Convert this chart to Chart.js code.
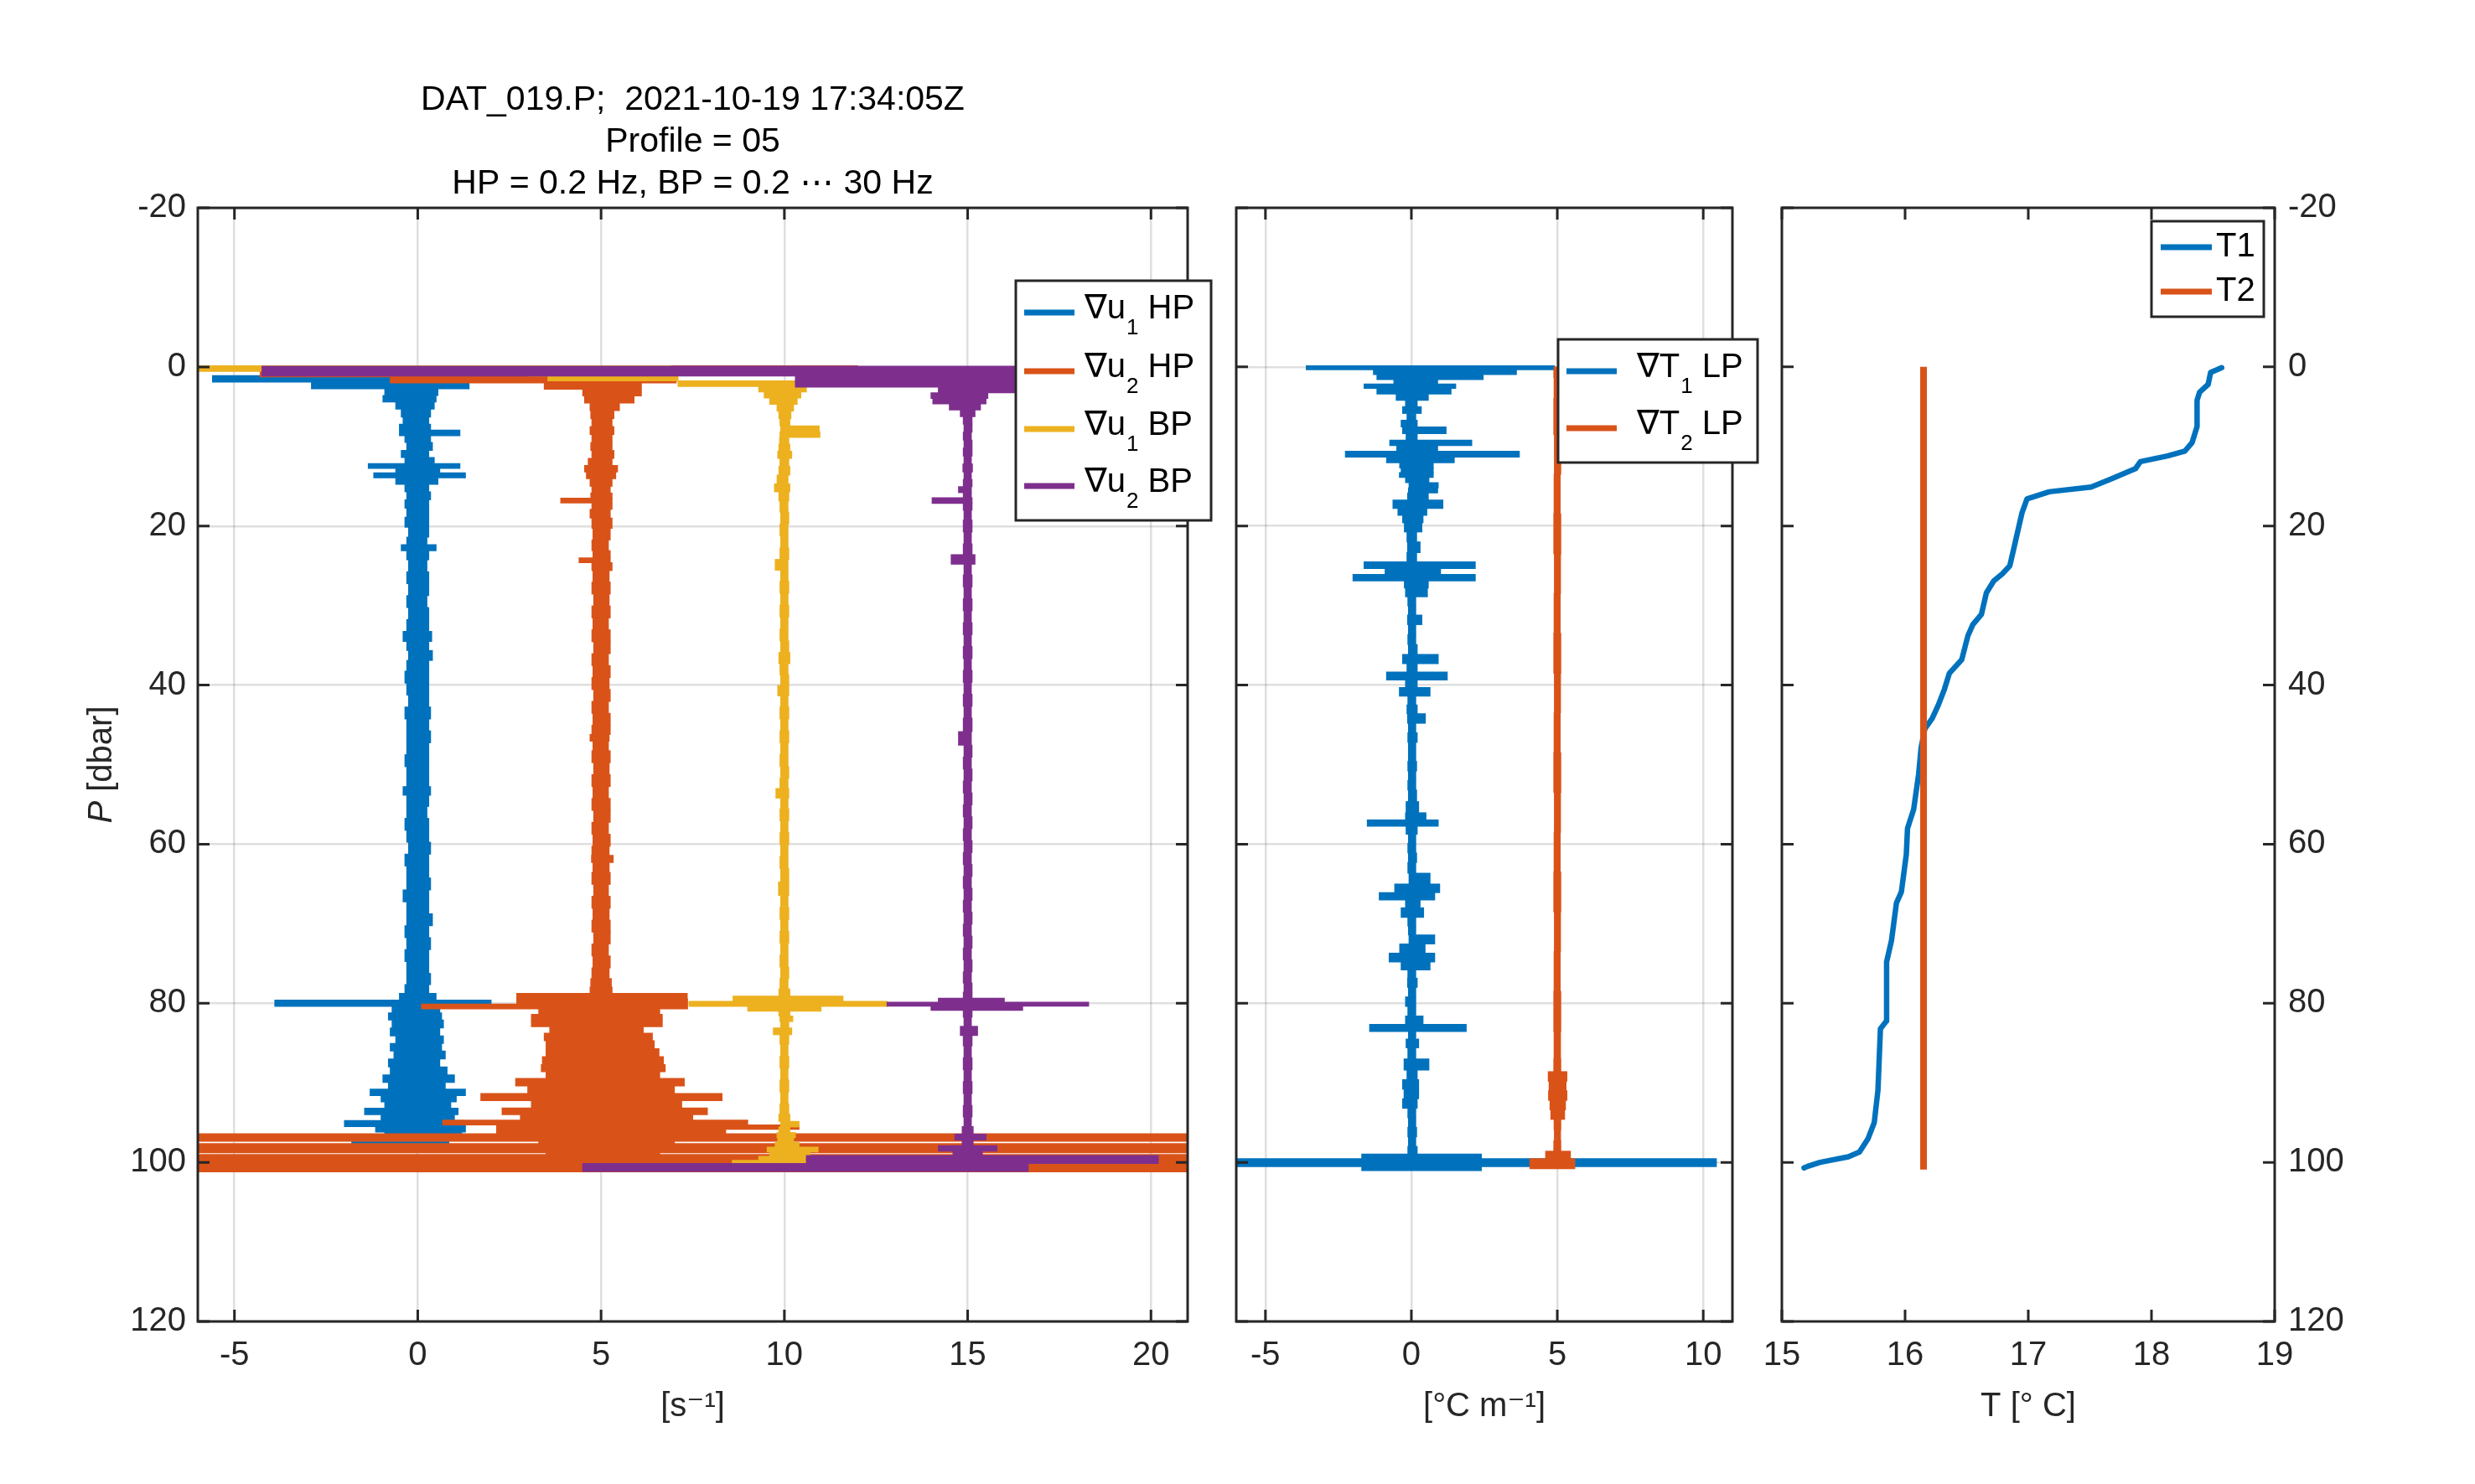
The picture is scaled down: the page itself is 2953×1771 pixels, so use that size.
<!DOCTYPE html>
<html>
<head>
<meta charset="utf-8">
<title>DAT_019.P profile 05</title>
<script src="https://cdn.jsdelivr.net/npm/chart.js@4.4.1/dist/chart.umd.min.js"></script>
<style>
  html, body { margin: 0; padding: 0; background: #fff; overflow: hidden; }
  #wrap { position: relative; width: 2953px; height: 1771px; }
  #wrap canvas { position: absolute; left: 0; top: 0; }
</style>
</head>
<body>
<div id="wrap">
  <canvas id="shearChart" width="2953" height="1771"></canvas>
  <canvas id="gradChart" width="2953" height="1771"></canvas>
  <canvas id="tempChart" width="2953" height="1771"></canvas>
</div>
<script>
// tick labels
const pTicks = [-20, 0, 20, 40, 60, 80, 100, 120];
const shearTicks = [-5, 0, 5, 10, 15, 20];
const gradTicks = [-5, 0, 5, 10];
const tempTicks = [15, 16, 17, 18, 19];

// shear traces, each row: [P dbar, left edge, right edge]
const u1HP = [
  [1.5, -5.6, 1.0], [2.3, -2.9, 1.4], [3.2, -0.9, 0.55], [4.0, -0.95, 0.5],
  [4.8, -0.6, 0.45], [5.8, -0.45, 0.35], [6.8, -0.4, 0.3], [7.6, -0.5, 0.35], [8.3, -0.5, 1.15],
  [9.0, -0.35, 0.35], [10.0, -0.3, 0.4], [11.0, -0.45, 0.3], [11.8, -0.35, 0.45], [12.5, -1.35, 1.15],
  [13.0, -0.6, 0.6], [13.6, -1.2, 1.3], [14.3, -0.6, 0.55], [15.2, -0.35, 0.3], [16.2, -0.3, 0.35],
  [17.2, -0.35, 0.3], [18.3, -0.3, 0.3], [19.5, -0.35, 0.3], [20.8, -0.25, 0.3], [22.0, -0.3, 0.25],
  [22.7, -0.45, 0.5], [23.5, -0.3, 0.3], [25.0, -0.25, 0.25], [26.5, -0.3, 0.3], [28.0, -0.25, 0.3],
  [29.5, -0.3, 0.25], [31.0, -0.25, 0.3], [32.5, -0.3, 0.3], [34.0, -0.4, 0.38], [35.0, -0.3, 0.3],
  [36.3, -0.25, 0.4], [37.5, -0.3, 0.3], [39.0, -0.35, 0.3], [40.5, -0.3, 0.3], [42.0, -0.25, 0.3],
  [43.5, -0.35, 0.35], [45.0, -0.3, 0.3], [46.5, -0.3, 0.35], [48.0, -0.3, 0.3], [49.5, -0.35, 0.3],
  [51.0, -0.3, 0.3], [52.3, -0.3, 0.3], [53.2, -0.4, 0.35], [54.5, -0.3, 0.3], [56.0, -0.3, 0.25],
  [57.5, -0.35, 0.3], [59.0, -0.3, 0.3], [60.5, -0.25, 0.35], [62.0, -0.35, 0.3], [63.5, -0.3, 0.3],
  [65.0, -0.3, 0.35], [66.5, -0.4, 0.3], [68.0, -0.3, 0.3], [69.5, -0.3, 0.4], [71.0, -0.35, 0.3],
  [72.5, -0.3, 0.35], [74.0, -0.35, 0.3], [75.5, -0.3, 0.3], [77.0, -0.3, 0.35], [78.3, -0.35, 0.3],
  [79.2, -0.5, 0.5], [80.0, -3.9, 2.0], [80.8, -0.7, 0.6], [81.6, -0.8, 0.65], [82.6, -0.7, 0.7],
  [83.6, -0.75, 0.6], [84.6, -0.6, 0.7], [85.5, -0.75, 0.65], [86.5, -0.65, 0.75], [87.5, -0.8, 0.6],
  [88.5, -0.75, 0.8], [89.5, -0.95, 1.0], [90.4, -0.8, 0.75], [91.2, -1.3, 1.3], [92.0, -1.0, 1.05],
  [92.8, -0.9, 0.9], [93.6, -1.45, 1.1], [94.4, -1.0, 1.0], [95.1, -2.0, 1.3], [95.9, -1.15, 1.3],
  [96.5, -0.9, 1.2], [97.6, -1.8, 0.85]
];
const u2HP = [
  [0.2, -4.3, 12.0], [0.9, -4.3, 6.0], [1.6, -0.75, 7.05], [2.4, 3.45, 6.1], [3.2, 4.5, 6.1],
  [4.1, 4.55, 5.9], [5.0, 4.7, 5.5], [6.0, 4.72, 5.35], [7.0, 4.75, 5.3], [8.0, 4.7, 5.35],
  [9.0, 4.75, 5.3], [10.0, 4.72, 5.3], [11.0, 4.75, 5.35], [12.0, 4.65, 5.3], [12.8, 4.55, 5.45],
  [13.6, 4.6, 5.4], [14.5, 4.7, 5.3], [15.5, 4.75, 5.25], [16.2, 4.72, 5.3], [16.8, 3.9, 5.3],
  [17.4, 4.75, 5.3], [18.4, 4.7, 5.25], [19.6, 4.75, 5.3], [21.0, 4.78, 5.25], [22.5, 4.75, 5.2],
  [23.7, 4.78, 5.25], [24.3, 4.4, 5.25], [24.9, 4.75, 5.3], [26.3, 4.78, 5.22], [27.8, 4.75, 5.25],
  [29.3, 4.8, 5.22], [30.8, 4.75, 5.25], [32.3, 4.78, 5.2], [33.8, 4.75, 5.25], [35.3, 4.8, 5.25],
  [36.8, 4.75, 5.2], [38.3, 4.78, 5.25], [39.8, 4.75, 5.22], [41.3, 4.8, 5.25], [42.8, 4.75, 5.2],
  [44.3, 4.78, 5.25], [45.8, 4.75, 5.25], [46.6, 4.7, 5.22], [47.5, 4.78, 5.2], [49.0, 4.75, 5.25],
  [50.5, 4.8, 5.22], [52.0, 4.75, 5.25], [53.5, 4.78, 5.2], [55.0, 4.75, 5.25], [56.5, 4.8, 5.25],
  [58.0, 4.75, 5.2], [59.5, 4.78, 5.25], [61.0, 4.75, 5.22], [61.8, 4.74, 5.33], [62.8, 4.78, 5.22],
  [64.3, 4.75, 5.25], [65.8, 4.8, 5.2], [67.3, 4.75, 5.25], [68.8, 4.78, 5.22], [70.3, 4.75, 5.25],
  [71.8, 4.8, 5.25], [73.3, 4.75, 5.2], [74.8, 4.78, 5.25], [76.3, 4.75, 5.22], [77.5, 4.72, 5.28],
  [78.4, 4.7, 5.3], [79.1, 2.7, 7.35], [79.8, 2.7, 7.36], [80.4, 0.1, 7.36], [81.0, 3.3, 6.6],
  [81.8, 3.1, 6.67], [82.6, 3.1, 6.67], [83.3, 3.6, 6.15], [84.2, 3.45, 6.4], [85.2, 3.5, 6.45],
  [86.2, 3.5, 6.58], [87.2, 3.4, 6.7], [88.2, 3.37, 6.75], [89.0, 3.5, 6.6], [89.9, 2.67, 7.27],
  [90.9, 3.0, 7.0], [91.8, 1.72, 8.3], [92.7, 3.1, 7.2], [93.6, 2.3, 7.9], [94.4, 2.8, 7.5],
  [95.0, 0.68, 9.0], [95.6, 2.15, 10.4], [96.1, 2.15, 8.4], [96.7, -6, 21], [97.2, -6, 21],
  [97.5, 3.3, 7.0], [97.8, -6, 21], [98.3, -6, 21], [98.7, -6, 21], [98.9, 3.5, 6.6],
  [99.1, -6, 21], [99.6, -6, 21], [100.1, -6, 21], [100.6, -6, 21], [101.0, -6, 21]
];
const u1BP = [
  [0.2, -6.0, 6.9], [0.9, 3.0, 5.0], [1.4, 3.55, 7.1], [2.1, 7.1, 11.1], [2.8, 9.3, 10.6],
  [3.5, 9.45, 10.45], [4.3, 9.6, 10.35], [5.1, 9.8, 10.25], [6.0, 9.85, 10.18], [7.0, 9.88, 10.15],
  [7.8, 9.9, 10.95], [8.5, 9.88, 10.97], [9.2, 9.87, 10.12], [10.2, 9.85, 10.15], [11.0, 9.82, 10.2],
  [12.0, 9.88, 10.12], [13.0, 9.85, 10.15], [14.2, 9.8, 10.1], [15.2, 9.73, 10.15], [16.2, 9.85, 10.12],
  [17.5, 9.88, 10.1], [19.0, 9.9, 10.12], [20.5, 9.88, 10.1], [22.0, 9.9, 10.1], [23.5, 9.88, 10.12],
  [24.9, 9.75, 10.1], [26.2, 9.9, 10.1], [27.7, 9.88, 10.12], [29.2, 9.9, 10.1], [30.7, 9.88, 10.12],
  [32.2, 9.9, 10.1], [33.7, 9.88, 10.1], [35.2, 9.9, 10.12], [36.6, 9.85, 10.15], [38.0, 9.88, 10.1],
  [39.4, 9.9, 10.12], [40.7, 9.82, 10.12], [42.0, 9.9, 10.1], [43.5, 9.88, 10.12], [45.0, 9.9, 10.1],
  [46.5, 9.88, 10.12], [48.0, 9.9, 10.1], [49.5, 9.88, 10.1], [51.0, 9.9, 10.12], [52.4, 9.88, 10.1],
  [53.6, 9.77, 10.12], [54.8, 9.9, 10.1], [56.3, 9.88, 10.12], [57.8, 9.9, 10.1], [59.3, 9.88, 10.12],
  [60.8, 9.9, 10.1], [62.3, 9.88, 10.1], [63.8, 9.9, 10.12], [65.7, 9.84, 10.12], [67.2, 9.9, 10.1],
  [68.7, 9.88, 10.12], [70.2, 9.9, 10.1], [71.7, 9.88, 10.12], [73.2, 9.9, 10.1], [74.7, 9.88, 10.1],
  [76.2, 9.9, 10.12], [77.6, 9.88, 10.1], [78.8, 9.85, 10.15], [79.4, 8.6, 11.6], [80.1, 7.4, 12.8],
  [80.7, 9.0, 11.0], [81.3, 9.85, 10.15], [81.9, 9.88, 10.23], [82.7, 9.9, 10.12], [83.5, 9.7, 10.2],
  [84.4, 9.88, 10.12], [85.9, 9.9, 10.1], [87.4, 9.88, 10.12], [88.9, 9.9, 10.1], [90.4, 9.88, 10.12],
  [91.9, 9.9, 10.1], [93.4, 9.88, 10.12], [94.5, 9.85, 10.15], [95.2, 9.9, 10.4], [95.9, 9.85, 10.15],
  [96.6, 9.8, 10.3], [97.2, 9.82, 10.25], [97.8, 9.75, 10.4], [98.4, 9.53, 10.92], [99.0, 9.6, 10.7],
  [99.5, 9.3, 10.9], [100.0, 8.58, 11.27], [100.4, 8.58, 11.27]
];
const u2BP = [
  [0.2, -4.25, 21.0], [0.8, -4.25, 21.0], [1.5, 10.3, 17.5], [2.2, 10.3, 17.5], [2.9, 14.2, 16.3],
  [3.6, 14.0, 15.55], [4.3, 14.05, 15.5], [5.0, 14.5, 15.35], [5.8, 14.8, 15.2], [6.7, 14.88, 15.12],
  [7.7, 14.9, 15.12], [8.7, 14.88, 15.1], [9.7, 14.9, 15.12], [10.7, 14.88, 15.12], [11.7, 14.9, 15.1],
  [12.7, 14.87, 15.13], [13.7, 14.9, 15.1], [14.6, 14.88, 15.12], [15.5, 14.75, 15.1], [16.1, 14.88, 15.1],
  [16.8, 14.03, 15.12], [17.5, 14.88, 15.12], [18.5, 14.9, 15.1], [20.0, 14.88, 15.12], [21.5, 14.9, 15.1],
  [23.0, 14.88, 15.12], [24.2, 14.55, 15.2], [25.4, 14.9, 15.1], [26.9, 14.88, 15.12], [28.4, 14.9, 15.1],
  [29.9, 14.88, 15.12], [31.4, 14.9, 15.1], [32.9, 14.88, 15.12], [34.4, 14.9, 15.1], [35.9, 14.88, 15.12],
  [37.4, 14.9, 15.1], [38.9, 14.88, 15.12], [40.4, 14.9, 15.1], [41.9, 14.88, 15.12], [43.4, 14.9, 15.1],
  [44.9, 14.88, 15.12], [46.8, 14.75, 15.1], [48.3, 14.9, 15.12], [49.8, 14.88, 15.1], [51.3, 14.9, 15.12],
  [52.8, 14.88, 15.1], [54.3, 14.9, 15.12], [55.8, 14.88, 15.1], [57.3, 14.9, 15.12], [58.8, 14.88, 15.1],
  [60.3, 14.9, 15.12], [61.8, 14.88, 15.1], [63.3, 14.9, 15.12], [64.8, 14.88, 15.1], [66.3, 14.9, 15.12],
  [67.8, 14.88, 15.1], [69.3, 14.9, 15.12], [70.8, 14.88, 15.1], [72.3, 14.9, 15.12], [73.8, 14.88, 15.1],
  [75.3, 14.9, 15.12], [76.8, 14.88, 15.1], [78.1, 14.9, 15.12], [79.1, 14.88, 15.12], [79.6, 14.2, 16.0],
  [80.1, 12.8, 18.3], [80.6, 14.0, 16.5], [81.2, 14.88, 15.12], [82.3, 14.9, 15.1], [83.5, 14.8, 15.27],
  [84.6, 14.88, 15.12], [86.1, 14.9, 15.1], [87.6, 14.88, 15.12], [89.1, 14.9, 15.1], [90.6, 14.88, 15.12],
  [92.1, 14.9, 15.1], [93.6, 14.88, 15.12], [95.0, 14.9, 15.1], [96.0, 14.85, 15.15], [96.9, 14.65, 15.5],
  [97.5, 14.85, 15.15], [98.3, 14.2, 15.8], [98.9, 14.6, 15.4], [99.4, 10.6, 20.2], [99.9, 10.6, 20.2],
  [100.4, 4.5, 16.65], [100.9, 4.5, 16.65]
];

// temperature gradient traces, rows: [P dbar, left edge, right edge]
const dT1 = [
  [0.1, -3.6, 4.9], [0.6, -1.3, 3.6], [1.3, -1.18, 2.46], [1.9, -0.6, 0.9], [2.4, -1.62, 1.52],
  [3.0, -1.18, 1.36], [3.8, -0.52, 0.58], [4.6, -0.2, 0.2], [5.4, -0.3, 0.34], [6.3, -0.15, 0.15],
  [7.1, -0.35, 0.2], [8.0, -0.3, 1.19], [8.8, -0.18, 0.2], [9.6, -0.74, 2.07], [10.2, -0.5, 0.9],
  [11.0, -2.26, 3.7], [11.7, -0.85, 1.47], [12.4, -0.4, 0.75], [13.0, -0.35, 0.75], [13.6, -0.41, 0.75],
  [14.2, -0.2, 0.6], [14.9, -0.08, 0.92], [15.5, -0.1, 0.9], [16.2, -0.13, 0.58], [17.3, -0.63, 1.08],
  [18.3, -0.46, 0.53], [19.0, -0.3, 0.4], [20.2, -0.24, 0.36], [21.3, -0.15, 0.18], [22.7, -0.13, 0.3],
  [24.0, -0.15, 0.18], [25.0, -1.62, 2.19], [25.7, -0.9, 1.0], [26.5, -2.0, 2.19], [27.3, -0.24, 0.58],
  [28.3, -0.2, 0.55], [29.5, -0.12, 0.15], [30.6, -0.1, 0.15], [31.8, -0.13, 0.36], [33.0, -0.1, 0.15],
  [34.3, -0.12, 0.15], [35.5, -0.1, 0.2], [36.8, -0.3, 0.92], [37.8, -0.15, 0.2], [38.9, -0.85, 1.23],
  [39.8, -0.2, 0.2], [40.8, -0.41, 0.64], [42.0, -0.12, 0.15], [43.0, -0.15, 0.2], [44.2, -0.13, 0.48],
  [45.4, -0.1, 0.15], [46.6, -0.12, 0.2], [47.8, -0.1, 0.15], [49.0, -0.1, 0.15], [50.2, -0.12, 0.18],
  [51.4, -0.1, 0.15], [52.6, -0.12, 0.15], [53.8, -0.1, 0.18], [55.5, -0.18, 0.25], [56.6, -0.2, 0.5],
  [57.3, -1.51, 0.92], [58.2, -0.18, 0.2], [59.3, -0.1, 0.15], [60.5, -0.12, 0.15], [61.7, -0.1, 0.18],
  [62.9, -0.12, 0.15], [64.4, -0.08, 0.64], [65.6, -0.57, 0.97], [66.6, -1.1, 0.8], [67.4, -0.2, 0.3],
  [68.6, -0.35, 0.42], [69.8, -0.12, 0.15], [70.8, -0.1, 0.15], [72.0, -0.08, 0.8], [73.1, -0.4, 0.47],
  [74.3, -0.76, 0.8], [75.3, -0.35, 0.64], [76.3, -0.12, 0.15], [77.4, -0.13, 0.2], [78.6, -0.1, 0.15],
  [79.8, -0.2, 0.15], [81.0, -0.12, 0.15], [82.2, -0.2, 0.4], [83.1, -1.43, 1.88], [84.0, -0.1, 0.15],
  [85.0, -0.18, 0.25], [86.2, -0.12, 0.15], [87.8, -0.25, 0.6], [89.0, -0.15, 0.2], [90.2, -0.3, 0.25],
  [91.4, -0.25, 0.25], [92.6, -0.3, 0.2], [93.8, -0.12, 0.15], [95.0, -0.1, 0.15], [96.2, -0.12, 0.18],
  [97.4, -0.1, 0.15], [98.6, -0.12, 0.2], [99.3, -1.7, 2.4], [99.8, -6.0, 10.45], [100.3, -6.0, 10.45],
  [100.8, -1.7, 2.4]
];
const dT2 = [
  [0.2, 4.89, 5.11], [0.6, 4.88, 5.1], [2.0, 4.89, 5.12], [6.0, 4.88, 5.11], [11.0, 4.9, 5.12],
  [16.0, 4.89, 5.1], [21.0, 4.88, 5.12], [26.0, 4.9, 5.11], [31.0, 4.89, 5.1], [36.0, 4.88, 5.12],
  [41.0, 4.9, 5.11], [46.0, 4.89, 5.1], [51.0, 4.88, 5.12], [56.0, 4.9, 5.11], [61.0, 4.89, 5.1],
  [66.0, 4.88, 5.12], [71.0, 4.9, 5.11], [76.0, 4.89, 5.1], [81.0, 4.88, 5.12], [86.0, 4.89, 5.11],
  [88.0, 4.88, 5.12], [89.2, 4.69, 5.33], [90.4, 4.72, 5.3], [91.6, 4.7, 5.33], [92.8, 4.75, 5.28],
  [94.0, 4.78, 5.25], [95.2, 4.89, 5.12], [96.6, 4.9, 5.11], [98.0, 4.88, 5.12], [99.2, 4.6, 5.45],
  [99.9, 4.06, 5.6], [100.5, 4.06, 5.6]
];

// temperature profiles
const t1P = [0.1, 0.7, 2.2, 3.2, 4.2, 7.5, 9.5, 10.6, 11.2, 11.9, 12.8, 14.1, 15.1, 15.7, 16.6, 18.3,
  20.3, 23.0, 25.0, 26.0, 26.9, 28.4, 31.1, 32.4, 33.8, 36.8, 38.5, 40.5, 42.5, 44.2, 45.5, 47.9, 51.2,
  55.6, 58.0, 61.3, 66.0, 67.4, 72.1, 74.8, 82.2, 83.2, 90.9, 95.0, 97.0, 98.7, 99.3, 100.0, 100.5, 100.7];
const t1 = [18.57, 18.48, 18.46, 18.39, 18.37, 18.37, 18.33, 18.27, 18.13, 17.91, 17.87, 17.67, 17.51,
  17.17, 16.99, 16.95, 16.92, 16.88, 16.85, 16.79, 16.72, 16.66, 16.62, 16.55, 16.51, 16.46, 16.36, 16.32,
  16.27, 16.22, 16.16, 16.13, 16.11, 16.07, 16.02, 16.01, 15.97, 15.93, 15.89, 15.85, 15.85, 15.80, 15.78,
  15.75, 15.70, 15.63, 15.54, 15.31, 15.21, 15.18];
const t2P = [0.0, 100.9];
const t2 = [16.15, 16.15];

const FONT = "'Liberation Sans', Arial, Helvetica, 'DejaVu Sans', sans-serif";
const INK = '#262626';
const GRID = 'rgba(38,38,38,0.15)';
const BLUE = '#0072BD';
const ORANGE = '#D95319';
const YELLOW = '#EDB120';
const PURPLE = '#7E2F8E';

Chart.defaults.font.family = FONT;
Chart.defaults.font.size = 40;
Chart.defaults.color = INK;

// box round the axes plus inward tick marks, matlab style
const matlabFrame = {
  id: 'matlabFrame',
  afterDatasetsDraw(chart) {
    const {ctx, chartArea: a, scales: {x, y}} = chart;
    const len = 14;
    ctx.save();
    ctx.strokeStyle = INK;
    ctx.lineWidth = 3;
    ctx.beginPath();
    x.ticks.forEach(t => {
      const px = x.getPixelForValue(t.value);
      ctx.moveTo(px, a.bottom); ctx.lineTo(px, a.bottom - len);
      ctx.moveTo(px, a.top); ctx.lineTo(px, a.top + len);
    });
    y.ticks.forEach(t => {
      const py = y.getPixelForValue(t.value);
      ctx.moveTo(a.left, py); ctx.lineTo(a.left + len, py);
      ctx.moveTo(a.right, py); ctx.lineTo(a.right - len, py);
    });
    ctx.stroke();
    ctx.strokeRect(a.left, a.top, a.right - a.left, a.bottom - a.top);
    ctx.restore();
  }
};

// rotated y label with an italic P
const pLabel = {
  id: 'pLabel',
  afterDraw(chart, args, o) {
    const ctx = chart.ctx;
    const a = chart.chartArea;
    ctx.save();
    ctx.translate(o.x, (a.top + a.bottom) / 2);
    ctx.rotate(-Math.PI / 2);
    ctx.fillStyle = INK;
    ctx.textBaseline = 'middle';
    ctx.textAlign = 'left';
    ctx.font = 'italic 40px ' + FONT;
    const w1 = ctx.measureText(o.lead).width;
    ctx.font = '40px ' + FONT;
    const w2 = ctx.measureText(o.rest).width;
    let x = -(w1 + w2) / 2;
    ctx.font = 'italic 40px ' + FONT;
    ctx.fillText(o.lead, x, 0);
    ctx.font = '40px ' + FONT;
    ctx.fillText(o.rest, x + w1, 0);
    ctx.restore();
  }
};

// boxed legend drawn on top, with subscripts
const boxLegend = {
  id: 'boxLegend',
  afterDraw(chart, args, o) {
    const ctx = chart.ctx;
    const b = o.box;
    ctx.save();
    ctx.fillStyle = '#fff';
    ctx.fillRect(b[0], b[1], b[2], b[3]);
    ctx.strokeStyle = INK;
    ctx.lineWidth = 3;
    ctx.strokeRect(b[0], b[1], b[2], b[3]);
    o.items.forEach((it, i) => {
      const y = o.rows[i];
      ctx.strokeStyle = it.color;
      ctx.lineWidth = 7;
      ctx.beginPath();
      ctx.moveTo(o.line[0], y);
      ctx.lineTo(o.line[1], y);
      ctx.stroke();
      ctx.fillStyle = '#000';
      ctx.textAlign = 'left';
      let x = o.textX;
      if (it.sub) {
        ctx.textBaseline = 'alphabetic';
        ctx.font = '40px ' + FONT;
        ctx.fillText(it.text, x, y + 7);
        x += ctx.measureText(it.text).width + 1;
        ctx.font = '26px ' + FONT;
        ctx.fillText(it.sub, x, y + 26);
        x += ctx.measureText(it.sub).width;
        ctx.font = '40px ' + FONT;
        ctx.fillText(it.tail, x, y + 7);
      } else {
        ctx.textBaseline = 'middle';
        ctx.font = '40px ' + FONT;
        ctx.fillText(it.text, x, y);
      }
    });
    ctx.restore();
  }
};

function traceSet(label, rows, color, order) {
  return {
    label: label,
    data: rows.map(r => ({y: r[0], x: [r[1], r[2]]})),
    backgroundColor: color,
    borderWidth: 0,
    barThickness: 'flex',
    categoryPercentage: 1,
    barPercentage: 1,
    inflateAmount: 0.5,
    stack: 'trace',
    order: order
  };
}

function tickSetter(values) {
  return function (scale) {
    scale.ticks = values.map(v => ({value: v}));
  };
}

function pAxis(opts) {
  return Object.assign({
    type: 'linear',
    reverse: true,
    min: -20,
    max: 120,
    offset: false,
    afterBuildTicks: tickSetter(pTicks),
    grid: {color: GRID, lineWidth: 2.5, drawTicks: false, offset: false},
    border: {display: false},
    ticks: {padding: 14, autoSkip: false}
  }, opts);
}

function valueAxis(min, max, ticks, title, showGrid) {
  return {
    type: 'linear',
    position: 'bottom',
    min: min,
    max: max,
    stacked: false,
    afterBuildTicks: tickSetter(ticks),
    grid: {display: showGrid, color: GRID, lineWidth: 2.5, drawTicks: false},
    border: {display: false},
    ticks: {padding: 17, autoSkip: false, maxRotation: 0},
    title: {display: true, text: title, font: {size: 40}, padding: {top: 0, bottom: 68}},
    afterFit: s => { s.height = 194; }
  };
}

function shearChart() {
  new Chart(document.getElementById('shearChart'), {
    type: 'bar',
    data: {
      datasets: [
        traceSet('∇u₁ HP', u1HP, BLUE, 4),
        traceSet('∇u₂ HP', u2HP, ORANGE, 3),
        traceSet('∇u₁ BP', u1BP, YELLOW, 2),
        traceSet('∇u₂ BP', u2BP, PURPLE, 1)
      ]
    },
    options: {
      indexAxis: 'y',
      responsive: false,
      animation: false,
      devicePixelRatio: 1,
      layout: {padding: {left: 0, right: 1536, top: 0, bottom: 0}},
      plugins: {
        legend: {display: false},
        tooltip: {enabled: false},
        title: {
          display: true,
          fullSize: false,
          text: ['DAT_019.P;  2021-10-19 17:34:05Z', 'Profile = 05', 'HP = 0.2 Hz, BP = 0.2 ⋯ 30 Hz'],
          color: '#000',
          font: {size: 41, weight: 'normal', lineHeight: 1.22},
          padding: {top: 95, bottom: 3}
        },
        pLabel: {x: 122, lead: 'P', rest: ' [dbar]'},
        boxLegend: {
          box: [1212, 335, 233, 286],
          rows: [373, 443, 512, 580],
          line: [1222, 1282],
          textX: 1294,
          items: [
            {color: BLUE, text: '∇u', sub: '1', tail: ' HP'},
            {color: ORANGE, text: '∇u', sub: '2', tail: ' HP'},
            {color: YELLOW, text: '∇u', sub: '1', tail: ' BP'},
            {color: PURPLE, text: '∇u', sub: '2', tail: ' BP'}
          ]
        }
      },
      scales: {
        x: valueAxis(-6, 21, shearTicks, '[s⁻¹]', true),
        y: pAxis({
          position: 'left',
          afterFit: s => { s.width = 236; }
        })
      }
    },
    plugins: [matlabFrame, pLabel, boxLegend]
  });
}

function gradChart() {
  new Chart(document.getElementById('gradChart'), {
    type: 'bar',
    data: {
      datasets: [
        traceSet('∇T₁ LP', dT1, BLUE, 2),
        traceSet('∇T₂ LP', dT2, ORANGE, 1)
      ]
    },
    options: {
      indexAxis: 'y',
      responsive: false,
      animation: false,
      devicePixelRatio: 1,
      layout: {padding: {left: 1475, right: 886, top: 248, bottom: 0}},
      plugins: {
        legend: {display: false},
        tooltip: {enabled: false},
        boxLegend: {
          box: [1859, 405, 238, 147],
          rows: [443, 511],
          line: [1869, 1929],
          textX: 1953,
          items: [
            {color: BLUE, text: '∇T', sub: '1', tail: ' LP'},
            {color: ORANGE, text: '∇T', sub: '2', tail: ' LP'}
          ]
        }
      },
      scales: {
        x: valueAxis(-6, 11, gradTicks, '[°C m⁻¹]', true),
        y: pAxis({
          position: 'left',
          ticks: {display: false},
          afterFit: s => { s.width = 0; }
        })
      }
    },
    plugins: [matlabFrame, boxLegend]
  });
}

function tempChart() {
  new Chart(document.getElementById('tempChart'), {
    type: 'scatter',
    data: {
      datasets: [
        {
          label: 'T1',
          data: t1.map((v, i) => ({x: v, y: t1P[i]})),
          showLine: true,
          borderColor: BLUE,
          borderWidth: 6.5,
          borderJoinStyle: 'round',
          borderCapStyle: 'round',
          pointRadius: 0,
          order: 2
        },
        {
          label: 'T2',
          data: t2.map((v, i) => ({x: v, y: t2P[i]})),
          showLine: true,
          borderColor: ORANGE,
          borderWidth: 8,
          pointRadius: 0,
          order: 1
        }
      ]
    },
    options: {
      responsive: false,
      animation: false,
      devicePixelRatio: 1,
      layout: {padding: {left: 2126, right: 0, top: 248, bottom: 0}},
      plugins: {
        legend: {display: false},
        tooltip: {enabled: false},
        boxLegend: {
          box: [2567, 264, 134, 114],
          rows: [295, 348],
          line: [2578, 2639],
          textX: 2644,
          items: [
            {color: BLUE, text: 'T1'},
            {color: ORANGE, text: 'T2'}
          ]
        }
      },
      scales: {
        x: valueAxis(15, 19, tempTicks, 'T [° C]', false),
        y: pAxis({
          position: 'right',
          grid: {display: false, drawTicks: false},
          ticks: {padding: 16, autoSkip: false},
          afterFit: s => { s.width = 239; }
        })
      }
    },
    plugins: [matlabFrame, boxLegend]
  });
}

shearChart();
gradChart();
tempChart();
</script>
</body>
</html>
